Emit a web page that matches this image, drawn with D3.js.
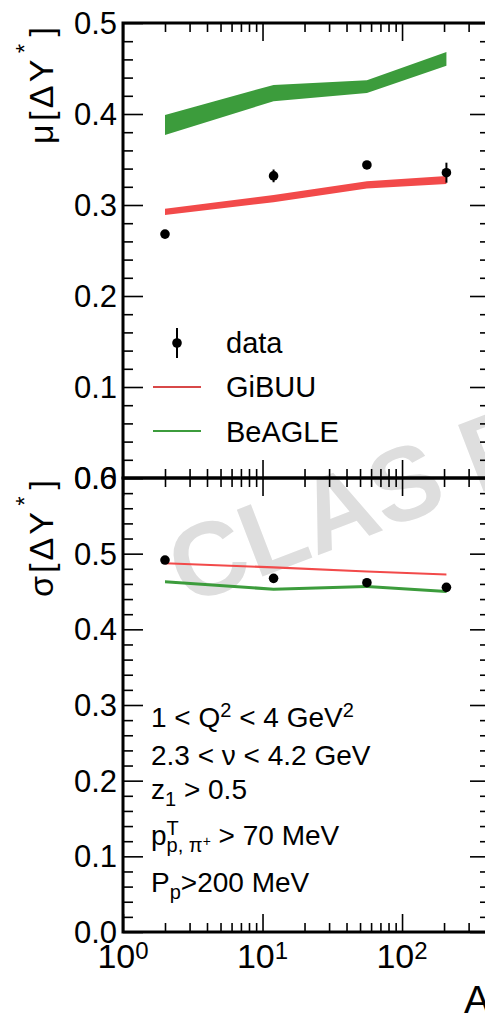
<!DOCTYPE html>
<html><head><meta charset="utf-8">
<script src="https://cdn.jsdelivr.net/npm/d3@7"></script>
<style>
html,body{margin:0;padding:0;background:#fff;overflow:hidden}
svg{display:block;font-family:"Liberation Sans",Arial,Helvetica,sans-serif}
text{white-space:pre}
</style>
</head><body>
<svg id="c" width="485" height="1016"></svg>
<script>
// ---------------- data ----------------
const nuclei = ["D", "C", "Fe", "Pb"];
const massNumbers = [2, 12, 56, 208];

const muData = [0.268, 0.332, 0.344, 0.3355];
const muErr = [0.003, 0.007, 0.004, 0.011];
const muGibuuLo = [0.289, 0.303, 0.318, 0.323];
const muGibuuHi = [0.296, 0.311, 0.326, 0.332];
const muBeagleLo = [0.377, 0.414, 0.423, 0.453];
const muBeagleHi = [0.399, 0.432, 0.437, 0.468];

const sigmaData = [0.4916, 0.4674, 0.4616, 0.4555];
const sigmaErr = [0.002, 0.002, 0.002, 0.002];
const sigmaGibuuLo = [0.486, 0.4805, 0.475, 0.471];
const sigmaGibuuHi = [0.4888, 0.4833, 0.4778, 0.4738];
const sigmaBeagleLo = [0.461, 0.451, 0.4545, 0.448];
const sigmaBeagleHi = [0.465, 0.455, 0.4585, 0.452];

const xTicks = [1, 10, 100];
const xTickExponents = ["0", "1", "2"];
const muTicks = [0, 0.1, 0.2, 0.3, 0.4, 0.5];
const sigmaTicks = [0, 0.1, 0.2, 0.3, 0.4, 0.5, 0.6];
const legendLabels = ["data", "GiBUU", "BeAGLE"];
const muTitle = ["μ[ΔY", "*", "]"];
const sigmaTitle = ["σ[ΔY", "*", "]"];
const xTitle = "A";
const watermark = "CLAS Preliminary";
// kinematic cuts: [text, role]
const cutLines = [
  [["1 < Q", ""], ["2", "sup"], [" < 4 GeV", ""], ["2", "sup"]],
  [["2.3 < ν < 4.2 GeV", ""]],
  [["z", ""], ["1", "sub"], [" > 0.5", ""]],
  [["p", ""], ["T", "sup"], ["p, π", "subback"], ["+", "subsup"], [" > 70 MeV", ""]],
  [["P", ""], ["p", "sub"], [">200 MeV", ""]]
];

// ---------------- layout ----------------
const L = 123, R = 490, T1 = 23, B1 = 478, T2 = 478, B2 = 932;
const RED = "#f24a4a", GREEN = "#3c9c3c";
const svg = d3.select("#c");

const x = d3.scaleLog().domain([1, 427]).range([L, R]);
const y1 = d3.scaleLinear().domain([0, 0.5]).range([B1, T1]);
const y2 = d3.scaleLinear().domain([0, 0.6]).range([B2, T2]);

// watermark (behind everything)
svg.append("text")
  .attr("transform", "translate(186,606) rotate(-21)")
  .attr("font-size", 104).attr("font-weight", "bold")
  .attr("fill", "#dedede").text(watermark);

// ---------------- bands ----------------
function band(yS, lo, hi, color) {
  const area = d3.area()
    .x((d, i) => x(massNumbers[i]))
    .y0((d, i) => yS(lo[i]))
    .y1((d, i) => yS(hi[i]));
  svg.append("path").datum(lo).attr("d", area).attr("fill", color).attr("stroke", "none");
}
band(y1, muBeagleLo, muBeagleHi, GREEN);
band(y1, muGibuuLo, muGibuuHi, RED);
band(y2, sigmaGibuuLo, sigmaGibuuHi, RED);
band(y2, sigmaBeagleLo, sigmaBeagleHi, GREEN);

// ---------------- data points ----------------
function points(yS, vals, errs) {
  const g = svg.append("g");
  g.selectAll("line").data(vals).join("line")
    .attr("x1", (d, i) => x(massNumbers[i])).attr("x2", (d, i) => x(massNumbers[i]))
    .attr("y1", (d, i) => yS(d - errs[i])).attr("y2", (d, i) => yS(d + errs[i]))
    .attr("stroke", "#000").attr("stroke-width", 2);
  g.selectAll("circle").data(vals).join("circle")
    .attr("cx", (d, i) => x(massNumbers[i])).attr("cy", d => yS(d))
    .attr("r", 4.8).attr("fill", "#000");
}
points(y1, muData, muErr);
points(y2, sigmaData, sigmaErr);

// ---------------- axes ----------------
const xMinor = [];
[1, 10, 100].forEach(k => { for (let m = 2; m <= 9; m++) { const v = m * k; if (v <= 427) xMinor.push(v); } });
function yMinor(max) {
  const out = [];
  for (let i = 0; i <= Math.round(max / 0.02); i++) { if (i % 5 !== 0) out.push(i * 0.02); }
  return out;
}
function ticks(axis, transform) {
  const g = svg.append("g").attr("transform", transform).call(axis);
  g.select(".domain").remove();
  g.selectAll("line").attr("stroke", "#000").attr("stroke-width", 1.6);
  g.selectAll("text").remove();
}
[[y1, muTicks, 0.5], [y2, sigmaTicks, 0.6]].forEach(([ys, maj, mx]) => {
  ticks(d3.axisRight(ys).tickValues(maj).tickSize(20), `translate(${L},0)`);
  ticks(d3.axisRight(ys).tickValues(yMinor(mx)).tickSize(10), `translate(${L},0)`);
  ticks(d3.axisLeft(ys).tickValues(maj).tickSize(20), `translate(${R},0)`);
  ticks(d3.axisLeft(ys).tickValues(yMinor(mx)).tickSize(10), `translate(${R},0)`);
});
[[T1, "down"], [B1, "up"], [T2, "down"], [B2, "up"]].forEach(([yy, dir]) => {
  const mk = dir === "down" ? d3.axisBottom : d3.axisTop;
  ticks(mk(x).tickValues(xTicks).tickSize(18), `translate(0,${yy})`);
  ticks(mk(x).tickValues(xMinor).tickSize(9), `translate(0,${yy})`);
});
svg.append("rect").attr("x", L).attr("y", T1).attr("width", R - L).attr("height", B1 - T1)
  .attr("fill", "none").attr("stroke", "#000").attr("stroke-width", 3);
svg.append("rect").attr("x", L).attr("y", T2).attr("width", R - L).attr("height", B2 - T2)
  .attr("fill", "none").attr("stroke", "#000").attr("stroke-width", 3);

// y tick labels
function yLabels(ys, vals) {
  const g = svg.append("g").attr("transform", `translate(${L},0)`)
    .call(d3.axisLeft(ys).tickValues(vals).tickSize(0).tickPadding(6).tickFormat(d3.format(".1f")));
  g.select(".domain").remove();
  g.attr("font-size", null).attr("font-family", null);
  g.selectAll("text").attr("font-size", 31).attr("fill", "#000").attr("dy", "0.34em");
}
yLabels(y1, muTicks);
yLabels(y2, sigmaTicks);

// x tick labels
const xl = svg.append("g").selectAll("text").data(xTicks).join("text")
  .attr("x", d => x(d)).attr("y", 968).attr("text-anchor", "middle").attr("font-size", 34);
xl.append("tspan").text("10");
xl.append("tspan").attr("font-size", 24).attr("dy", -9).text((d, i) => xTickExponents[i]);

// axis titles
function yTitle(parts, endY) {
  const t = svg.append("text").attr("transform", `translate(53,${endY}) rotate(-90)`)
    .attr("text-anchor", "end").attr("font-size", 34)
    .attr("textLength", 117).attr("lengthAdjust", "spacing");
  t.append("tspan").text(parts[0]);
  t.append("tspan").attr("font-size", 24).attr("dy", -20).attr("dx", 3).text(parts[1]);
  t.append("tspan").attr("dy", 20).attr("dx", 4).text(parts[2]);
}
yTitle(muTitle, 27);
yTitle(sigmaTitle, 480);
svg.append("text").attr("x", 490).attr("y", 1013).attr("text-anchor", "end")
  .attr("font-size", 39).text(xTitle);

// ---------------- legend ----------------
const lg = svg.append("g");
lg.append("line").attr("x1", 177).attr("x2", 177).attr("y1", 328).attr("y2", 358)
  .attr("stroke", "#000").attr("stroke-width", 2);
lg.append("circle").attr("cx", 177).attr("cy", 343).attr("r", 4.8).attr("fill", "#000");
lg.append("line").attr("x1", 153).attr("x2", 201).attr("y1", 387).attr("y2", 387)
  .attr("stroke", "#d84848").attr("stroke-width", 2);
lg.append("line").attr("x1", 153).attr("x2", 201).attr("y1", 431).attr("y2", 431)
  .attr("stroke", GREEN).attr("stroke-width", 2);
lg.selectAll("text.lt").data(legendLabels).join("text").attr("class", "lt")
  .attr("x", 226).attr("y", (d, i) => [353, 397, 442][i])
  .attr("font-size", 29).text(d => d);

// ---------------- cuts text ----------------
const cutBaselines = [727, 765, 799, 845, 892];
cutLines.forEach((segs, li) => {
  let cx = 151, base = cutBaselines[li], prevStart = cx;
  segs.forEach(([txt, role]) => {
    let size = 28, off = 0, startX = cx;
    if (role === "sup") { size = 20; off = -10; }
    if (role === "sub") { size = 20; off = 7; }
    if (role === "subback") { size = 20; off = 7; startX = prevStart; }
    if (role === "subsup") { size = 14; off = 1; }
    const t = svg.append("text").attr("x", startX).attr("y", base + off)
      .attr("font-size", size).text(txt.replace(/ /g, "\u00a0"));
    const w = t.node().getComputedTextLength();
    prevStart = startX;
    cx = Math.max(cx, startX + w);
    if (role === "subback") cx = startX + w;
  });
});
</script>
</body></html>
